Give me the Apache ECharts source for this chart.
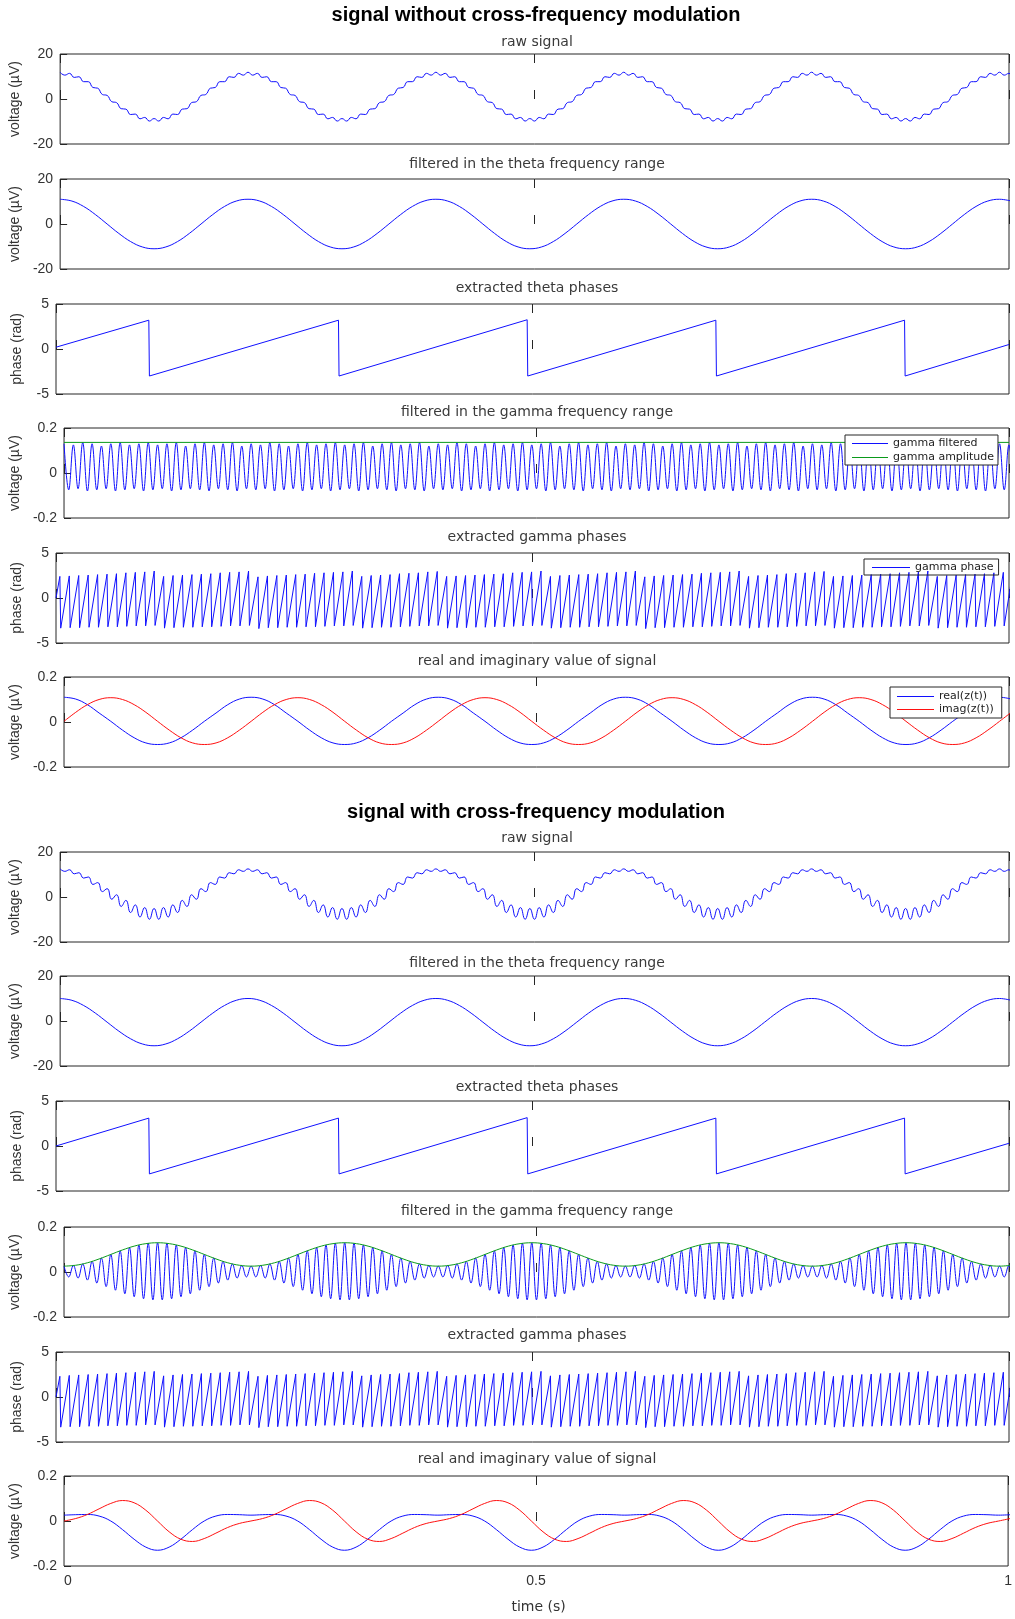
<!DOCTYPE html>
<html><head><meta charset="utf-8">
<script src="https://cdn.jsdelivr.net/npm/echarts@6/dist/echarts.min.js"></script>
<style>html,body{margin:0;padding:0;background:#fff}#c{width:1015px;height:1619px}</style>
</head><body><div id="c"></div>
<script>
// ---------------- DATA ----------------
// sampling steps: gamma half-cycle, theta sixteenth-cycle, gamma cycle
const GAMMA_HALF = 0.00495;
const THETA_STEP = 0.012375;
const GAMMA_CYCLE = 0.0099;
const PHASE_DROP = 0.0009;

const xTicks = [0, 0.5, 1];

// raw signal, no modulation (gamma peak / trough samples)
const rawNoMod = [
11.9,10.6,11.4,9.6,9.9,7.7,7.7,5.1,4.8,2.0,1.6,-1.2,-1.6,-4.3,-4.5,-6.9,-6.7,-8.8,-8.2,-9.8,-8.7,-9.8,-8.2,-8.8,-6.7,-6.9,-4.5,-4.3,-1.6,-1.2,1.6,2.0,4.8,5.1,7.7,7.7,9.9,9.6,11.4,10.6,
11.9,10.6,11.4,9.6,9.9,7.7,7.7,5.1,4.8,2.0,1.6,-1.2,-1.6,-4.3,-4.5,-6.9,-6.7,-8.8,-8.2,-9.8,-8.7,-9.8,-8.2,-8.8,-6.7,-6.9,-4.5,-4.3,-1.6,-1.2,1.6,2.0,4.8,5.1,7.7,7.7,9.9,9.6,11.4,10.6,
11.9,10.6,11.4,9.6,9.9,7.7,7.7,5.1,4.8,2.0,1.6,-1.2,-1.6,-4.3,-4.5,-6.9,-6.7,-8.8,-8.2,-9.8,-8.7,-9.8,-8.2,-8.8,-6.7,-6.9,-4.5,-4.3,-1.6,-1.2,1.6,2.0,4.8,5.1,7.7,7.7,9.9,9.6,11.4,10.6,
11.9,10.6,11.4,9.6,9.9,7.7,7.7,5.1,4.8,2.0,1.6,-1.2,-1.6,-4.3,-4.5,-6.9,-6.7,-8.8,-8.2,-9.8,-8.7,-9.8,-8.2,-8.8,-6.7,-6.9,-4.5,-4.3,-1.6,-1.2,1.6,2.0,4.8,5.1,7.7,7.7,9.9,9.6,11.4,10.6,
11.9,10.6,11.4,9.6,9.9,7.7,7.7,5.1,4.8,2.0,1.6,-1.2,-1.6,-4.3,-4.5,-6.9,-6.7,-8.8,-8.2,-9.8,-8.7,-9.8,-8.2,-8.8,-6.7,-6.9,-4.5,-4.3,-1.6,-1.2,1.6,2.0,4.8,5.1,7.7,7.7,9.9,9.6,11.4,10.6,
11.9,10.6,11.4,9.6];

// theta filtered, no modulation (sixteenth-cycle samples)
const thetaNoMod = [
11,10.2,7.8,4.2,0,-4.2,-7.8,-10.2,-11,-10.2,-7.8,-4.2,0,4.2,7.8,10.2,
11,10.2,7.8,4.2,0,-4.2,-7.8,-10.2,-11,-10.2,-7.8,-4.2,0,4.2,7.8,10.2,
11,10.2,7.8,4.2,0,-4.2,-7.8,-10.2,-11,-10.2,-7.8,-4.2,0,4.2,7.8,10.2,
11,10.2,7.8,4.2,0,-4.2,-7.8,-10.2,-11,-10.2,-7.8,-4.2,0,4.2,7.8,10.2,
11,10.2,7.8,4.2,0,-4.2,-7.8,-10.2,-11,-10.2,-7.8,-4.2,0,4.2,7.8,10.2,
11,10.2];

// theta phase, no modulation: start, wrap times, values before/after wrap, end
const thetaPhaseNoMod = {start:0.2, wraps:[0.098,0.297,0.495,0.693,0.891], tops:[3.2,3.2,3.25,3.2,3.2], bottoms:[-3.0,-3.0,-3.0,-3.0,-3.0], end:0.5};

// gamma filtered, no modulation (peak / trough samples)
const gammaNoMod = [
.13,-.075,.125,-.07,.135,-.08,.13,-.075,.12,-.07,.13,-.08,.135,-.075,.125,-.07,.13,-.08,.135,-.075,
.125,-.07,.13,-.08,.135,-.075,.12,-.07,.13,-.075,.135,-.08,.125,-.07,.13,-.075,.135,-.08,.12,-.07,
.13,-.075,.125,-.07,.135,-.08,.13,-.075,.12,-.07,.13,-.08,.135,-.075,.125,-.07,.13,-.08,.135,-.075,
.125,-.07,.13,-.08,.135,-.075,.12,-.07,.13,-.075,.135,-.08,.125,-.07,.13,-.075,.135,-.08,.12,-.07,
.13,-.075,.125,-.07,.135,-.08,.13,-.075,.12,-.07,.13,-.08,.135,-.075,.125,-.07,.13,-.08,.135,-.075,
.125,-.07,.13,-.08,.135,-.075,.12,-.07,.13,-.075,.135,-.08,.125,-.07,.13,-.075,.135,-.08,.12,-.07,
.13,-.075,.125,-.07,.135,-.08,.13,-.075,.12,-.07,.13,-.08,.135,-.075,.125,-.07,.13,-.08,.135,-.075,
.125,-.07,.13,-.08,.135,-.075,.12,-.07,.13,-.075,.135,-.08,.125,-.07,.13,-.075,.135,-.08,.12,-.07,
.13,-.075,.125,-.07,.135,-.08,.13,-.075,.12,-.07,.13,-.08,.135,-.075,.125,-.07,.13,-.08,.135,-.075,
.125,-.07,.13,-.08,.135,-.075,.12,-.07,.13,-.075,.135,-.08,.125,-.07,.13,-.075,.135,-.08,.12,-.07,
.13,-.075,.125,-.07];
const ampNoModT = [0, 1];
const ampNoMod = [0.136, 0.136];

// gamma phase, no modulation: value just before and just after each wrap
const gPeaksNoMod = [
2.4,2.45,2.5,2.55,2.6,2.65,2.7,2.8,2.85,2.9,3.0,
2.4,2.5,2.55,2.6,2.65,2.7,2.8,2.85,2.9,3.0,
2.35,2.45,2.5,2.55,2.6,2.65,2.75,2.8,2.85,2.9,3.0,
2.4,2.5,2.55,2.6,2.7,2.75,2.8,2.9,2.95,
2.4,2.45,2.5,2.55,2.6,2.65,2.7,2.8,2.85,2.9,3.0,
2.4,2.5,2.55,2.6,2.65,2.7,2.8,2.85,2.9,3.0,
2.35,2.45,2.5,2.55,2.6,2.65,2.75,2.8,2.85,2.9,3.0,
2.4,2.5,2.55,2.6,2.7,2.75,2.8,2.9,2.95,
2.4,2.45,2.5,2.55,2.6,2.65,2.7,2.8,2.85,2.9,3.0,
2.4,2.5,2.55,2.6,2.65,2.7,2.8,2.85,2.9,3.0];
const gTroughsNoMod = [
-3.35,-3.3,-3.3,-3.25,-3.25,-3.2,-3.2,-3.15,-3.1,-3.1,-3.05,
-3.35,-3.3,-3.25,-3.25,-3.2,-3.2,-3.15,-3.1,-3.1,-3.05,
-3.4,-3.3,-3.3,-3.25,-3.25,-3.2,-3.2,-3.15,-3.1,-3.1,-3.05,
-3.35,-3.3,-3.25,-3.25,-3.2,-3.15,-3.1,-3.1,-3.05,
-3.35,-3.3,-3.3,-3.25,-3.25,-3.2,-3.2,-3.15,-3.1,-3.1,-3.05,
-3.35,-3.3,-3.25,-3.25,-3.2,-3.2,-3.15,-3.1,-3.1,-3.05,
-3.4,-3.3,-3.3,-3.25,-3.25,-3.2,-3.2,-3.15,-3.1,-3.1,-3.05,
-3.35,-3.3,-3.25,-3.25,-3.2,-3.15,-3.1,-3.1,-3.05,
-3.35,-3.3,-3.3,-3.25,-3.25,-3.2,-3.2,-3.15,-3.1,-3.1,-3.05,
-3.35,-3.3,-3.25,-3.25,-3.2,-3.2,-3.15,-3.1,-3.1,-3.05];

// real / imaginary parts, no modulation (sixteenth-cycle samples)
const realNoMod = [
.11,.102,.077,.04,.003,-.036,-.07,-.093,-.1,-.093,-.07,-.036,.003,.04,.077,.102,
.11,.102,.077,.04,.003,-.036,-.07,-.093,-.1,-.093,-.07,-.036,.003,.04,.077,.102,
.11,.102,.077,.04,.003,-.036,-.07,-.093,-.1,-.093,-.07,-.036,.003,.04,.077,.102,
.11,.102,.077,.04,.003,-.036,-.07,-.093,-.1,-.093,-.07,-.036,.003,.04,.077,.102,
.11,.102,.077,.04,.003,-.036,-.07,-.093,-.1,-.093,-.07,-.036,.003,.04,.077,.102,
.11,.102];
const imagNoMod = [
.003,.043,.077,.1,.108,.1,.077,.043,.003,-.036,-.07,-.093,-.1,-.093,-.07,-.036,
.003,.043,.077,.1,.108,.1,.077,.043,.003,-.036,-.07,-.093,-.1,-.093,-.07,-.036,
.003,.043,.077,.1,.108,.1,.077,.043,.003,-.036,-.07,-.093,-.1,-.093,-.07,-.036,
.003,.043,.077,.1,.108,.1,.077,.043,.003,-.036,-.07,-.093,-.1,-.093,-.07,-.036,
.003,.043,.077,.1,.108,.1,.077,.043,.003,-.036,-.07,-.093,-.1,-.093,-.07,-.036,
.003,.043];

// raw signal with modulation (gamma peak / trough samples)
const rawMod = [
12.5,11.4,12.1,10.3,10.8,8.4,8.9,5.6,6.4,2.4,3.7,-1.0,1.0,-4.2,-1.5,-6.9,-3.5,-8.9,-4.7,-9.9,-5.1,-9.9,-4.7,-8.9,-3.5,-6.9,-1.5,-4.2,1.0,-1.0,3.7,2.4,6.4,5.6,8.9,8.4,10.8,10.3,12.1,11.4,
12.5,11.4,12.1,10.3,10.8,8.4,8.9,5.6,6.4,2.4,3.7,-1.0,1.0,-4.2,-1.5,-6.9,-3.5,-8.9,-4.7,-9.9,-5.1,-9.9,-4.7,-8.9,-3.5,-6.9,-1.5,-4.2,1.0,-1.0,3.7,2.4,6.4,5.6,8.9,8.4,10.8,10.3,12.1,11.4,
12.5,11.4,12.1,10.3,10.8,8.4,8.9,5.6,6.4,2.4,3.7,-1.0,1.0,-4.2,-1.5,-6.9,-3.5,-8.9,-4.7,-9.9,-5.1,-9.9,-4.7,-8.9,-3.5,-6.9,-1.5,-4.2,1.0,-1.0,3.7,2.4,6.4,5.6,8.9,8.4,10.8,10.3,12.1,11.4,
12.5,11.4,12.1,10.3,10.8,8.4,8.9,5.6,6.4,2.4,3.7,-1.0,1.0,-4.2,-1.5,-6.9,-3.5,-8.9,-4.7,-9.9,-5.1,-9.9,-4.7,-8.9,-3.5,-6.9,-1.5,-4.2,1.0,-1.0,3.7,2.4,6.4,5.6,8.9,8.4,10.8,10.3,12.1,11.4,
12.5,11.4,12.1,10.3,10.8,8.4,8.9,5.6,6.4,2.4,3.7,-1.0,1.0,-4.2,-1.5,-6.9,-3.5,-8.9,-4.7,-9.9,-5.1,-9.9,-4.7,-8.9,-3.5,-6.9,-1.5,-4.2,1.0,-1.0,3.7,2.4,6.4,5.6,8.9,8.4,10.8,10.3,12.1,11.4,
12.5,11.4,12.1,10.3];

// theta filtered with modulation
const thetaMod = [
10,9.2,6.9,3.5,-0.5,-4.5,-7.9,-10.2,-11,-10.2,-7.9,-4.5,-0.5,3.5,6.9,9.2,
10,9.2,6.9,3.5,-0.5,-4.5,-7.9,-10.2,-11,-10.2,-7.9,-4.5,-0.5,3.5,6.9,9.2,
10,9.2,6.9,3.5,-0.5,-4.5,-7.9,-10.2,-11,-10.2,-7.9,-4.5,-0.5,3.5,6.9,9.2,
10,9.2,6.9,3.5,-0.5,-4.5,-7.9,-10.2,-11,-10.2,-7.9,-4.5,-0.5,3.5,6.9,9.2,
10,9.2,6.9,3.5,-0.5,-4.5,-7.9,-10.2,-11,-10.2,-7.9,-4.5,-0.5,3.5,6.9,9.2,
10,9.2];

const thetaPhaseMod = {start:0.0, wraps:[0.098,0.297,0.495,0.693,0.891], tops:[3.1,3.1,3.15,3.1,3.1], bottoms:[-3.1,-3.1,-3.1,-3.1,-3.1], end:0.3};

// gamma filtered with modulation (peak / trough samples)
const gammaMod = [
.026,-.022,.029,-.027,.036,-.036,.047,-.049,.062,-.065,.078,-.081,.094,-.097,.109,-.110,.120,-.119,.128,-.124,.130,-.124,.128,-.119,.120,-.110,.109,-.097,.094,-.081,.078,-.065,.062,-.049,.047,-.036,.036,-.027,.029,-.022,
.026,-.022,.029,-.027,.036,-.036,.047,-.049,.062,-.065,.078,-.081,.094,-.097,.109,-.110,.120,-.119,.128,-.124,.130,-.124,.128,-.119,.120,-.110,.109,-.097,.094,-.081,.078,-.065,.062,-.049,.047,-.036,.036,-.027,.029,-.022,
.026,-.022,.029,-.027,.036,-.036,.047,-.049,.062,-.065,.078,-.081,.094,-.097,.109,-.110,.120,-.119,.128,-.124,.130,-.124,.128,-.119,.120,-.110,.109,-.097,.094,-.081,.078,-.065,.062,-.049,.047,-.036,.036,-.027,.029,-.022,
.026,-.022,.029,-.027,.036,-.036,.047,-.049,.062,-.065,.078,-.081,.094,-.097,.109,-.110,.120,-.119,.128,-.124,.130,-.124,.128,-.119,.120,-.110,.109,-.097,.094,-.081,.078,-.065,.062,-.049,.047,-.036,.036,-.027,.029,-.022,
.026,-.022,.029,-.027,.036,-.036,.047,-.049,.062,-.065,.078,-.081,.094,-.097,.109,-.110,.120,-.119,.128,-.124,.130,-.124,.128,-.119,.120,-.110,.109,-.097,.094,-.081,.078,-.065,.062,-.049,.047,-.036,.036,-.027,.029,-.022,
.026,-.022,.029,-.027];

// gamma amplitude envelope with modulation (sixteenth-cycle samples)
const ampMod = [
.026,.03,.041,.058,.078,.098,.115,.126,.13,.126,.115,.098,.078,.058,.041,.03,
.026,.03,.041,.058,.078,.098,.115,.126,.13,.126,.115,.098,.078,.058,.041,.03,
.026,.03,.041,.058,.078,.098,.115,.126,.13,.126,.115,.098,.078,.058,.041,.03,
.026,.03,.041,.058,.078,.098,.115,.126,.13,.126,.115,.098,.078,.058,.041,.03,
.026,.03,.041,.058,.078,.098,.115,.126,.13,.126,.115,.098,.078,.058,.041,.03,
.026,.03];

const gPeaksMod = [
2.3,2.4,2.45,2.5,2.55,2.6,2.65,2.7,2.75,2.8,2.85,
2.35,2.45,2.5,2.55,2.6,2.65,2.7,2.75,2.8,2.85,
2.3,2.4,2.45,2.5,2.55,2.6,2.65,2.7,2.75,2.8,2.85,
2.35,2.45,2.5,2.55,2.6,2.7,2.75,2.8,2.85,
2.3,2.4,2.45,2.5,2.55,2.6,2.65,2.7,2.75,2.8,2.85,
2.35,2.45,2.5,2.55,2.6,2.65,2.7,2.75,2.8,2.85,
2.3,2.4,2.45,2.5,2.55,2.6,2.65,2.7,2.75,2.8,2.85,
2.35,2.45,2.5,2.55,2.6,2.7,2.75,2.8,2.85,
2.3,2.4,2.45,2.5,2.55,2.6,2.65,2.7,2.75,2.8,2.85,
2.35,2.45,2.5,2.55,2.6,2.65,2.7,2.75,2.8,2.85];
const gTroughsMod = [
-3.35,-3.3,-3.3,-3.25,-3.25,-3.2,-3.2,-3.15,-3.15,-3.1,-3.1,
-3.35,-3.3,-3.25,-3.25,-3.2,-3.2,-3.15,-3.15,-3.1,-3.1,
-3.4,-3.3,-3.3,-3.25,-3.25,-3.2,-3.2,-3.15,-3.15,-3.1,-3.1,
-3.35,-3.3,-3.25,-3.25,-3.2,-3.15,-3.15,-3.1,-3.1,
-3.35,-3.3,-3.3,-3.25,-3.25,-3.2,-3.2,-3.15,-3.15,-3.1,-3.1,
-3.35,-3.3,-3.25,-3.25,-3.2,-3.2,-3.15,-3.15,-3.1,-3.1,
-3.4,-3.3,-3.3,-3.25,-3.25,-3.2,-3.2,-3.15,-3.15,-3.1,-3.1,
-3.35,-3.3,-3.25,-3.25,-3.2,-3.15,-3.15,-3.1,-3.1,
-3.35,-3.3,-3.3,-3.25,-3.25,-3.2,-3.2,-3.15,-3.15,-3.1,-3.1,
-3.35,-3.3,-3.25,-3.25,-3.2,-3.2,-3.15,-3.15,-3.1,-3.1];

const realMod = [
.026,.028,.029,.022,0,-.038,-.081,-.116,-.13,-.116,-.081,-.038,0,.022,.029,.028,
.026,.028,.029,.022,0,-.038,-.081,-.116,-.13,-.116,-.081,-.038,0,.022,.029,.028,
.026,.028,.029,.022,0,-.038,-.081,-.116,-.13,-.116,-.081,-.038,0,.022,.029,.028,
.026,.028,.029,.022,0,-.038,-.081,-.116,-.13,-.116,-.081,-.038,0,.022,.029,.028,
.026,.028,.029,.022,0,-.038,-.081,-.116,-.13,-.116,-.081,-.038,0,.022,.029,.028,
.026,.028];
const imagMod = [
0,.011,.029,.054,.078,.091,.081,.048,0,-.048,-.081,-.091,-.078,-.054,-.029,-.011,
0,.011,.029,.054,.078,.091,.081,.048,0,-.048,-.081,-.091,-.078,-.054,-.029,-.011,
0,.011,.029,.054,.078,.091,.081,.048,0,-.048,-.081,-.091,-.078,-.054,-.029,-.011,
0,.011,.029,.054,.078,.091,.081,.048,0,-.048,-.081,-.091,-.078,-.054,-.029,-.011,
0,.011,.029,.054,.078,.091,.081,.048,0,-.048,-.081,-.091,-.078,-.054,-.029,-.011,
0,.011];

const mainTitles = ['signal without cross-frequency modulation', 'signal with cross-frequency modulation'];
const subTitles = ['raw signal','filtered in the theta frequency range','extracted theta phases','filtered in the gamma frequency range','extracted gamma phases','real and imaginary value of signal'];

// ---------------- BUILD ----------------
const gammaPts = v => v.map((y, j) => [j * GAMMA_HALF, y]);
const thetaPts = v => v.map((y, m) => [m * THETA_STEP, y]);
const pairPts = (t, v) => v.map((y, i) => [t[i], y]);
function gPhasePts(peaks, troughs) {
  const d = [[0, 0]];
  peaks.forEach((p, k) => { const w = (k + 0.5) * GAMMA_CYCLE; d.push([w - PHASE_DROP, p], [w, troughs[k]]); });
  return d;
}
function tPhasePts(o) {
  const d = [[0, o.start]];
  o.wraps.forEach((w, i) => d.push([w - 0.0006, o.tops[i]], [w, o.bottoms[i]]));
  d.push([1, o.end]);
  return d;
}

const BLUE = '#1010ff', GREEN = '#0a9a1a', RED = '#ff1010';
const V20 = [-20, 20, 20], PH = [-5, 5, 5], V02 = [-0.2, 0.2, 0.2];
const VOLT = 'voltage (µV)', PHASE = 'phase (rad)';

const panels = [
  {y: V20, yn: VOLT, s: [{name: 'raw signal', data: gammaPts(rawNoMod), c: BLUE, sm: 0.5}]},
  {y: V20, yn: VOLT, s: [{name: 'theta filtered', data: thetaPts(thetaNoMod), c: BLUE, sm: 0.4}]},
  {y: PH, yn: PHASE, s: [{name: 'theta phase', data: tPhasePts(thetaPhaseNoMod), c: BLUE}]},
  {y: V02, yn: VOLT, s: [{name: 'gamma filtered', data: gammaPts(gammaNoMod), c: BLUE, sm: 0.4},
                         {name: 'gamma amplitude', data: pairPts(ampNoModT, ampNoMod), c: GREEN}]},
  {y: PH, yn: PHASE, s: [{name: 'gamma phase', data: gPhasePts(gPeaksNoMod, gTroughsNoMod), c: BLUE}]},
  {y: V02, yn: VOLT, s: [{name: 'real(z(t))', data: thetaPts(realNoMod), c: BLUE, sm: 0.4},
                         {name: 'imag(z(t))', data: thetaPts(imagNoMod), c: RED, sm: 0.4}]},
  {y: V20, yn: VOLT, s: [{name: 'raw signal 2', data: gammaPts(rawMod), c: BLUE, sm: 0.5}]},
  {y: V20, yn: VOLT, s: [{name: 'theta filtered 2', data: thetaPts(thetaMod), c: BLUE, sm: 0.4}]},
  {y: PH, yn: PHASE, s: [{name: 'theta phase 2', data: tPhasePts(thetaPhaseMod), c: BLUE}]},
  {y: V02, yn: VOLT, s: [{name: 'gamma filtered 2', data: gammaPts(gammaMod), c: BLUE, sm: 0.4},
                         {name: 'gamma amplitude 2', data: thetaPts(ampMod), c: GREEN, sm: 0.4}]},
  {y: PH, yn: PHASE, s: [{name: 'gamma phase 2', data: gPhasePts(gPeaksMod, gTroughsMod), c: BLUE}]},
  {y: V02, yn: VOLT, s: [{name: 'real 2', data: thetaPts(realMod), c: BLUE, sm: 0.4},
                         {name: 'imag 2', data: thetaPts(imagMod), c: RED, sm: 0.4}]}
];

const TOPS = [54, 179, 304, 428, 553, 677, 852, 976, 1101, 1227, 1352, 1476];
const SUB_Y = [42.5, 164.5, 288.5, 412.5, 537.5, 661.5, 838, 963, 1087, 1211, 1335, 1459];
const PLOT_H = 90, LEFT = 56, WIDTH = 953;
const AX = '#262626', TXT = '#333';
const ARIAL = '"Liberation Sans", Arial, sans-serif';
const DEJA = '"DejaVu Sans", sans-serif';

const grid = [], xAxis = [], yAxis = [], series = [], graphic = [];
panels.forEach((p, i) => {
  const last = i === panels.length - 1;
  grid.push({left: LEFT, width: WIDTH, top: TOPS[i], height: PLOT_H, show: true,
    borderColor: AX, borderWidth: 1, backgroundColor: '#fff'});
  xAxis.push({gridIndex: i, type: 'value', position: 'bottom', min: xTicks[0], max: xTicks[2], interval: xTicks[1] - xTicks[0],
    axisLine: {show: false}, splitLine: {show: false},
    axisTick: {show: true, inside: true, length: 9, lineStyle: {color: AX}},
    axisLabel: {show: last, fontFamily: ARIAL, fontSize: 14, color: TXT, margin: 8, alignMinLabel: 'left'},
    name: last ? 'time (s)' : '', nameLocation: 'middle', nameGap: 34,
    nameTextStyle: {fontFamily: DEJA, fontSize: 14, color: TXT, padding: [0, 0, 0, 5]}});
  xAxis.push({gridIndex: i, type: 'value', position: 'top', min: xTicks[0], max: xTicks[2], interval: xTicks[1] - xTicks[0],
    axisLine: {show: false}, splitLine: {show: false}, axisLabel: {show: false},
    axisTick: {show: true, inside: true, length: 9, lineStyle: {color: AX}}});
  yAxis.push({gridIndex: i, type: 'value', min: p.y[0], max: p.y[1], interval: p.y[2],
    axisLine: {show: false}, splitLine: {show: false},
    axisTick: {show: true, inside: true, length: 7, lineStyle: {color: AX}},
    axisLabel: {fontFamily: ARIAL, fontSize: 14, color: TXT, margin: 7},
    name: p.yn, nameLocation: 'middle', nameRotate: 90, nameGap: 32,
    nameTextStyle: {fontFamily: ARIAL, fontSize: 14, color: TXT}});
  p.s.forEach(s => series.push({type: 'line', name: s.name, xAxisIndex: 2 * i, yAxisIndex: i, data: s.data,
    symbol: 'none', showSymbol: false, smooth: s.sm || false, silent: true, animation: false,
    lineStyle: {color: s.c, width: 1}, itemStyle: {color: s.c}}));
  graphic.push({type: 'text', x: 537, y: SUB_Y[i], silent: true,
    style: {text: subTitles[i % 6], font: '14px ' + DEJA, fill: '#3a3a3a', textAlign: 'center', textVerticalAlign: 'middle'}});
});
graphic.push({type: 'text', x: 536, y: 15, style: {text: mainTitles[0], font: 'bold 20px ' + ARIAL, fill: '#000', textAlign: 'center', textVerticalAlign: 'middle'}});
graphic.push({type: 'text', x: 536, y: 812, style: {text: mainTitles[1], font: 'bold 20px ' + ARIAL, fill: '#000', textAlign: 'center', textVerticalAlign: 'middle'}});

const legendBase = {orient: 'vertical', icon: 'rect', itemHeight: 1, selectedMode: false,
  borderColor: AX, borderWidth: 1, borderRadius: 0,
  textStyle: {fontFamily: DEJA, fontSize: 11, color: '#222'}};
const legend = [
  Object.assign({}, legendBase, {data: ['gamma filtered', 'gamma amplitude'], left: 845, top: 435, itemWidth: 36, itemGap: 3, padding: [3, 4, 2, 7], backgroundColor: '#fff'}),
  Object.assign({}, legendBase, {data: ['gamma phase'], left: 864, top: 559, itemWidth: 38, itemGap: 2, padding: [3, 5, 2, 8], backgroundColor: 'transparent'}),
  Object.assign({}, legendBase, {data: ['real(z(t))', 'imag(z(t))'], left: 890, top: 687, itemWidth: 37, itemGap: 2, padding: [4, 8, 3, 7], backgroundColor: '#fff'})
];

const chart = echarts.init(document.getElementById('c'), null, {renderer: 'canvas'});
chart.setOption({animation: false, backgroundColor: '#fff', grid, xAxis, yAxis, series, graphic, legend});
</script></body></html>
